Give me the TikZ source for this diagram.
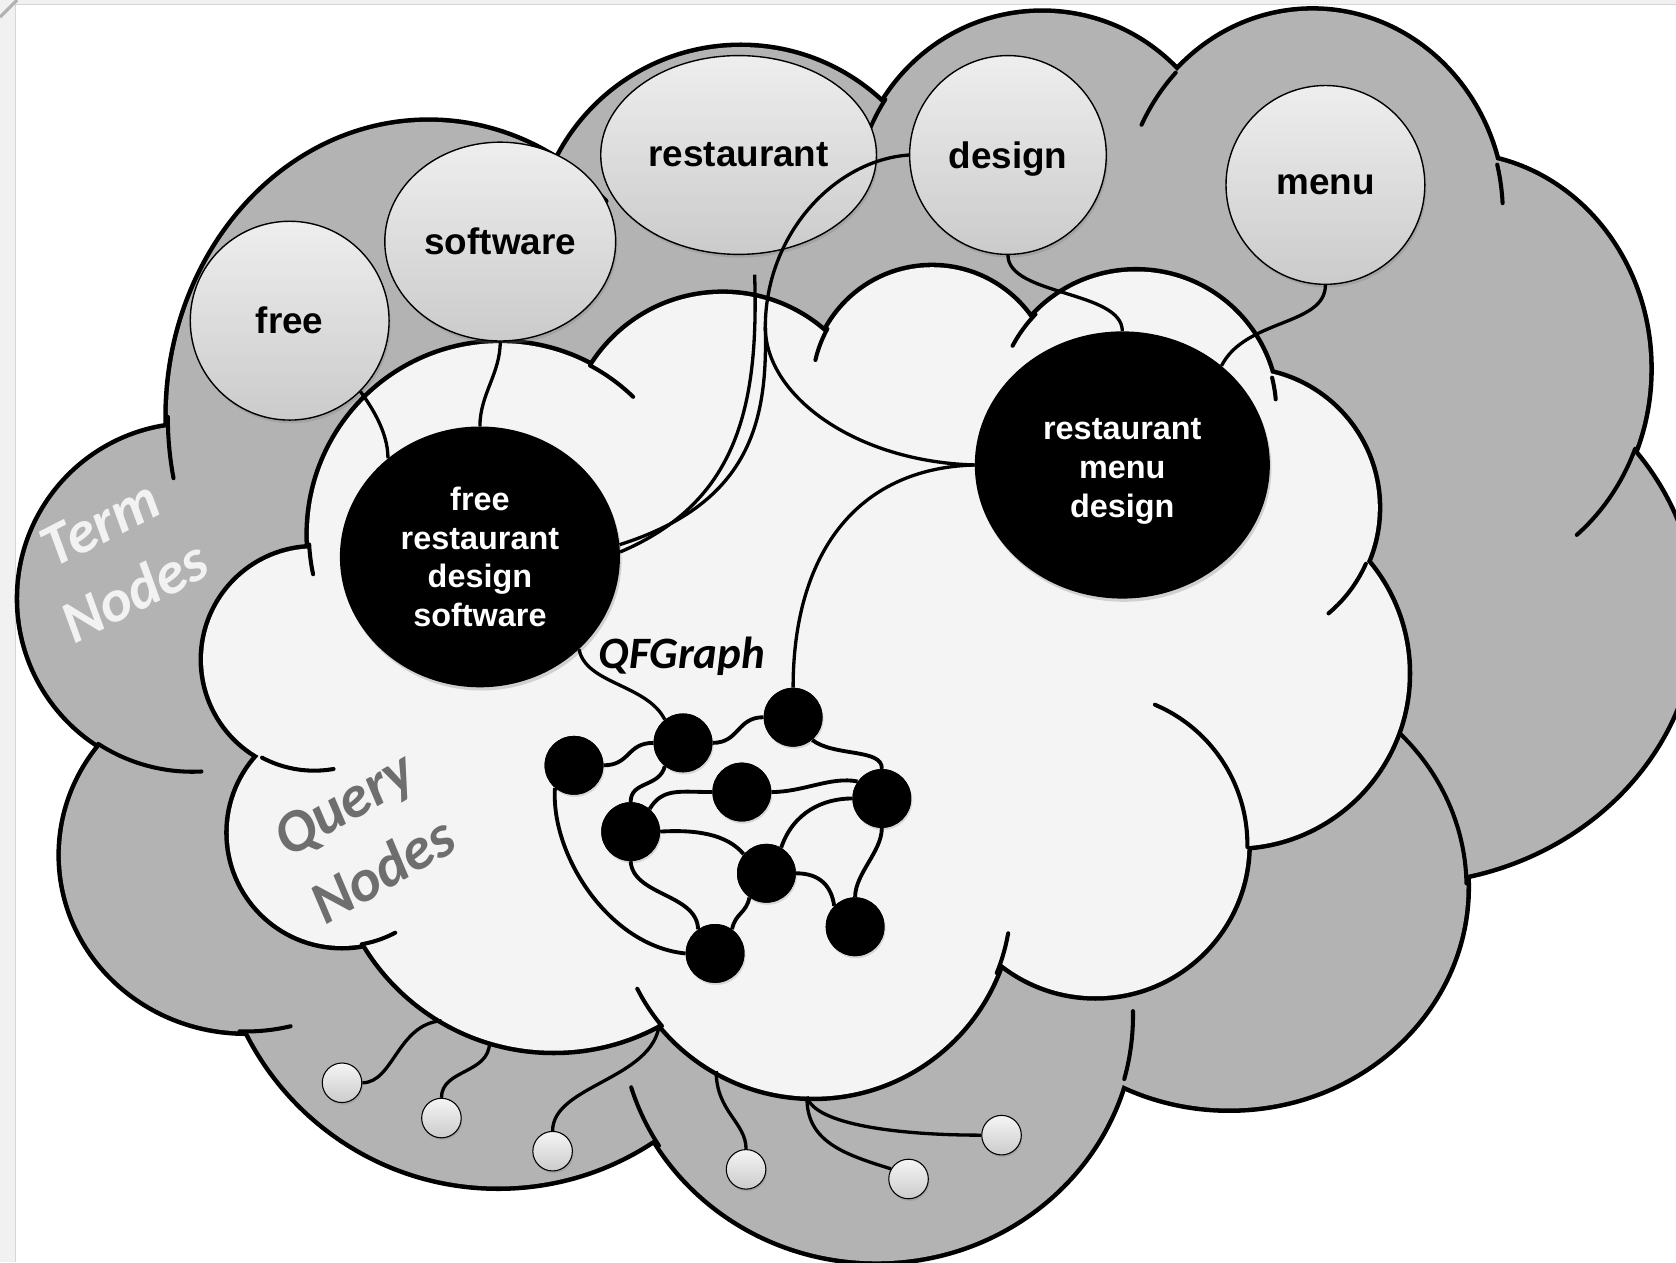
\documentclass[tikz,border=0pt]{standalone}
\usepackage{fontspec}
\setmainfont{Liberation Sans}
\newfontfamily\humanist{Carlito}
\usetikzlibrary{shapes.geometric,shadows}

\definecolor{cloudgray}{HTML}{B3B3B3}
\definecolor{cloudlight}{HTML}{F4F4F4}
\definecolor{termtop}{HTML}{EEEEEE}
\definecolor{termbot}{HTML}{CBCBCB}
\definecolor{termtext}{HTML}{F2F2F2}
\definecolor{querytext}{HTML}{6E6E6E}
\definecolor{framefill}{HTML}{F1F1F1}
\definecolor{frameline}{HTML}{D6D6D6}

% lobes of the two clouds: centre x / centre y / x radius / y radius
\def\graylobes{401/390/244/276, 693/236/192/192, 975/190/175/178, 1228/200/178/190, 1360/345/183/200, 1310/575/275/250, 1150/830/222/207, 820/950/240/230, 466/848/262/262, 230/800/173/165, 180/560/162/162}
\def\lightlobes{676/419/144/144, 872/362/112/112, 1063/385/131/131, 1160/475/129/129, 1155/630/162/162, 1025/790/142/142, 761/841/185/185, 518/777/206/206, 320/779/106/106, 294/617/104/104, 468/500/179/179}
% inner hooks: lobe ellipse and the angular range that runs into the cloud
\def\grayhooks{401/390/244/276/168/180, 401/390/244/276/-61/-47, 975/190/175/178/-162/-147, 1228/200/178/190/-154/-136, 1228/200/178/190/-14/-3, 1360/345/183/200/22/51, 1150/830/222/207/-46/-1, 820/950/240/230/-1/15, 820/950/240/230/148/163, 230/800/173/165/76/92, 180/560/162/162/87/123}
\def\lighthooks{468/500/179/179/-62/-46, 468/500/179/179/168/177, 872/362/112/112/-167/-151, 1063/385/131/131/-152/-136, 1063/385/131/131/-14/-5, 1160/475/129/129/24/50, 1025/790/142/142/-67/1, 761/841/185/185/10/22, 761/841/185/185/140/153, 320/779/106/106/62/80, 294/617/104/104/80/118}

\begin{document}
\begin{tikzpicture}[x=1pt, y=-1pt,
  rim/.style={line width=8.5pt, draw=black},
  hookline/.style={line width=3.8pt, line cap=round},
  conn/.style={line width=3.1pt},
  gedge/.style={line width=3.6pt},
  termnode/.style={ellipse, draw=black, line width=1.3pt, top color=termtop, bottom color=termbot, inner sep=0pt,
    font={\fontsize{34.5}{40}\selectfont\bfseries},
    drop shadow={shadow xshift=1.5pt, shadow yshift=-3pt, opacity=0.3}},
  querynode/.style={ellipse, fill=black, inner sep=0pt, text=white, align=center,
    font={\fontsize{30.3}{36.4}\selectfont\bfseries},
    drop shadow={shadow xshift=1.5pt, shadow yshift=-3pt, opacity=0.3}},
  qfnode/.style={circle, fill=black, minimum size=55pt, inner sep=0pt,
    drop shadow={shadow xshift=1pt, shadow yshift=-2pt, opacity=0.25}},
  leaf/.style={circle, draw=black, line width=1pt, top color=white!96!black, bottom color=termbot, minimum size=37pt, inner sep=0pt,
    drop shadow={shadow xshift=1pt, shadow yshift=-2pt, opacity=0.3}},
  lbl/.style={font={\humanist\fontsize{56}{72}\selectfont\bfseries\itshape}, align=center},
]
\useasboundingbox (0,0) rectangle (1568,1181);
\fill[white] (0,0) rectangle (1568,1181);

% page frame
\fill[framefill] (0,0) rectangle (14,1181);
\draw[frameline, line width=1.5pt] (14.5,4) -- (14.5,1181);
\fill[framefill] (0,0) rectangle (1568,4);
\draw[frameline, line width=1pt] (14,4.5) -- (1568,4.5);
\draw[gray!60, line width=3pt] (0,16) -- (16,0);

% outer (term) cloud
\foreach \cx/\cy/\rx/\ry in \graylobes {\draw[rim] (\cx,\cy) ellipse [x radius=\rx, y radius=\ry];}
\foreach \cx/\cy/\rx/\ry in \graylobes {\fill[cloudgray] (\cx,\cy) ellipse [x radius=\rx, y radius=\ry];}
\fill[cloudgray] (196,410) -- (542,173) -- (824,126) -- (1075,103) -- (1366,184) -- (1481,432)
  -- (1331,807) -- (1033,979) -- (625,1037) -- (264,939) -- (140,688) -- cycle;
\foreach \cx/\cy/\rx/\ry/\ta/\tb in \grayhooks
  {\draw[hookline] plot[domain=\ta:\tb, samples=20, smooth] ({\cx+\rx*cos(\x)},{\cy+\ry*sin(\x)});}

% inner (query) cloud
\foreach \cx/\cy/\rx/\ry in \lightlobes {\draw[rim] (\cx,\cy) ellipse [x radius=\rx, y radius=\ry];}
\foreach \cx/\cy/\rx/\ry in \lightlobes {\fill[cloudlight] (\cx,\cy) ellipse [x radius=\rx, y radius=\ry];}
\fill[cloudlight] (568,360) -- (775,330) -- (956,315) -- (1168,371) -- (1250,536) -- (1143,780)
  -- (928,888) -- (627,937) -- (367,867) -- (279,705) -- (319,519) -- cycle;
\foreach \cx/\cy/\rx/\ry/\ta/\tb in \lighthooks
  {\draw[hookline] plot[domain=\ta:\tb, samples=20, smooth] ({\cx+\rx*cos(\x)},{\cy+\ry*sin(\x)});}

% term nodes
\node[termnode, minimum width=186pt, minimum height=186pt] (free) at (271,300) {free};
\node[termnode, minimum width=216pt, minimum height=186pt] (software) at (468,226) {software};
\node[termnode, minimum width=258pt, minimum height=186pt] (restaurant) at (691,145) {restaurant};
\node[termnode, minimum width=184pt, minimum height=186pt, text depth=0pt] (design) at (943,145) {design};
\node[termnode, minimum width=186pt, minimum height=186pt] (menu) at (1240,173) {menu};

% query nodes
\node[querynode, minimum width=262pt, minimum height=244pt] (frds) at (449,521) {free\\restaurant\\design\\software};
\node[querynode, minimum width=276pt, minimum height=250pt] (rmd) at (1050,435) {\rule{0pt}{31pt}restaurant\\menu\\design};

% QFGraph nodes
\node[qfnode] (n1) at (537,716) {};
\node[qfnode] (n2) at (639,695) {};
\node[qfnode] (n3) at (742,671) {};
\node[qfnode] (n4) at (694,741) {};
\node[qfnode] (n5) at (825,747) {};
\node[qfnode] (n6) at (590,778) {};
\node[qfnode] (n7) at (717,817) {};
\node[qfnode] (n8) at (669,892) {};
\node[qfnode] (n9) at (800,867) {};

% small nodes below the query cloud
\node[leaf] (b1) at (320,1013) {};
\node[leaf] (b2) at (413,1046) {};
\node[leaf] (b3) at (517,1077) {};
\node[leaf] (b4) at (698,1094) {};
\node[leaf] (b5) at (850,1103) {};
\node[leaf] (b6) at (937,1062) {};

% free connector ends
\coordinate (stub) at (706,257);
\coordinate (fork) at (716,306);
\coordinate (q1) at (413,955);
\coordinate (q2) at (458,975);
\coordinate (q3) at (617,957);
\coordinate (q4) at (670,1002);
\coordinate (q5) at (755,1026);

% term to query connectors
\draw[conn] (free.-45) .. controls +(10,14) and +(0,-25) .. (frds.133);
\draw[conn] (software.south) .. controls +(0,30) and +(0,-30) .. (frds.north);
\draw[conn] (stub) .. controls (710,380) and (690,470) .. (frds.2);
\draw[conn] (design.west) .. controls (780,150) and (716,220) .. (fork) .. controls (718,390) and (705,470) .. (frds.5);
\draw[conn] (fork) .. controls (716,370) and (800,432) .. (rmd.west);
\draw[conn] (design.south) .. controls +(0,38) and +(0,-38) .. (rmd.north);
\draw[conn] (menu.south) .. controls (1240,305) and (1165,298) .. (rmd.45);
\draw[conn] (frds.-43) .. controls (548,640) and (605,640) .. (n2.128);
\draw[conn] (n3.north) .. controls (742,520) and (800,438) .. (rmd.west);

% QFGraph edges
\draw[gedge] (n1.east) .. controls +(25,0) and +(-25,0) .. (n2.west);
\draw[gedge] (n2.east) .. controls +(25,0) and +(-25,0) .. (n3.west);
\draw[gedge] (n2.-128) .. controls +(-5,20) and +(0,-20) .. (n6.north);
\draw[gedge] (n6.50) .. controls +(12,-20) and +(-30,0) .. (n4.west);
\draw[gedge] (n4.east) .. controls +(30,0) and +(-25,-5) .. (n5.145);
\draw[gedge] (n3.-50) .. controls (780,708) and (826,700) .. (n5.north);
\draw[gedge] (n6.east) .. controls (650,776) and (680,780) .. (n7.140);
\draw[gedge] (n5.west) .. controls (770,747) and (742,760) .. (n7.60);
\draw[gedge] (n5.south) .. controls +(0,22) and +(0,-22) .. (n9.north);
\draw[gedge] (n7.east) .. controls (768,817) and (778,830) .. (n9.135);
\draw[gedge] (n7.-125) .. controls +(-3,15) and +(3,-15) .. (n8.55);
\draw[gedge] (n6.south) .. controls (592,838) and (652,836) .. (n8.125);
\draw[gedge] (n1.-130) .. controls (515,800) and (570,885) .. (n8.west);

% small node connectors
\draw[conn] (b1.east) .. controls (368,1013) and (372,958) .. (q1);
\draw[conn] (b2.north) .. controls (413,1000) and (458,1005) .. (q2);
\draw[conn] (b3.north) .. controls (517,1015) and (612,1010) .. (q3);
\draw[conn] (b4.north) .. controls (698,1050) and (670,1040) .. (q4);
\draw[conn] (b5.150) .. controls (790,1080) and (754,1068) .. (q5);
\draw[conn] (b6.west) .. controls (840,1062) and (762,1052) .. (q5);

% redraw node bodies over connector ends
\foreach \n in {n1,n2,n3,n4,n5,n6,n7,n8,n9} {\fill (\n) circle [radius=27.5];}

% labels
\node[lbl, text=termtext, rotate=27] (termlabel) at (110,522) {Term\\Nodes};
\node[lbl, text=querytext, rotate=30] (querylabel) at (340,783) {Query\\Nodes};
\node[font={\humanist\fontsize{42}{50}\selectfont\bfseries\itshape}] (qflabel) at (638,614) {QFGraph};
\end{tikzpicture}
\end{document}
